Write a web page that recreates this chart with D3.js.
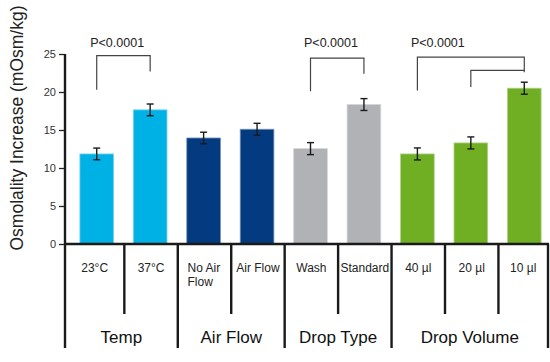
<!DOCTYPE html>
<html>
<head>
<meta charset="utf-8">
<script src="https://cdn.jsdelivr.net/npm/d3@7"></script>
<style>
  body { margin: 0; background: #fff; }
  svg { display: block; font-family: Arial, "Liberation Sans", sans-serif; }
</style>
</head>
<body>
<div id="chart"></div>
<script>
// bar categories and values (mOsm/kg)
const categories = ['23°C', '37°C', 'No Air Flow', 'Air Flow', 'Wash', 'Standard', '40 µl', '20 µl', '10 µl'];
const values = [11.85, 17.65, 13.95, 15.1, 12.55, 18.35, 11.85, 13.3, 20.5];
const errors = [0.77, 0.77, 0.76, 0.78, 0.79, 0.78, 0.79, 0.79, 0.79];
const groups = [
    {name: 'Temp', from: 0, to: 1, color: '#00b1e5'},
    {name: 'Air Flow', from: 2, to: 3, color: '#033a80'},
    {name: 'Drop Type', from: 4, to: 5, color: '#b1b2b6'},
    {name: 'Drop Volume', from: 6, to: 8, color: '#70ae24'}
];
const yTicks = [0, 5, 10, 15, 20, 25];
// significance brackets, levels in data units
const brackets = [
    {a: 0, b: 1, top: 24.78, aEnd: 20.3, bEnd: 22.7, label: 'P<0.0001'},
    {a: 4, b: 5, top: 24.45, aEnd: 20.1, bEnd: 22.4, label: 'P<0.0001'},
    {a: 6, b: 8, top: 24.6, aEnd: 20.2, bEnd: 22.6, label: 'P<0.0001'},
    {a: 7, b: 8, top: 22.85, aEnd: 20.65, bEnd: 22.85, label: ''}
];

const width = 550, height = 362;
const axisLeft = 65, axisRight = 548;

const svg = d3.select('#chart').append('svg')
    .attr('width', width)
    .attr('height', height)
    .attr('viewBox', [0, 0, width, height]);

const x = d3.scaleBand()
    .domain(categories)
    .range([70, 551])
    .paddingInner(0.37)
    .paddingOuter(0.185);

const y = d3.scaleLinear()
    .domain([0, 25])
    .range([244, 54]);

const colorOf = i => groups.find(g => i >= g.from && i <= g.to).color;

// bars
svg.append('g')
    .selectAll('rect')
    .data(values)
    .join('rect')
    .attr('x', (d, i) => x(categories[i]))
    .attr('y', d => y(d))
    .attr('width', x.bandwidth())
    .attr('height', d => y(0) - y(d))
    .attr('fill', (d, i) => colorOf(i))
    .attr('stroke', (d, i) => d3.interpolateRgb(colorOf(i), '#fff')(0.45))
    .attr('stroke-width', 0.8);

// error bars
const eb = svg.append('g').attr('stroke', '#1a1a1a').attr('stroke-width', 1.4);
values.forEach((v, i) => {
    const cx = x(categories[i]) + x.bandwidth() / 2;
    eb.append('line').attr('x1', cx).attr('x2', cx).attr('y1', y(v + errors[i])).attr('y2', y(v - errors[i]));
    eb.append('line').attr('x1', cx - 3.5).attr('x2', cx + 3.5).attr('y1', y(v + errors[i])).attr('y2', y(v + errors[i]));
    eb.append('line').attr('x1', cx - 3.5).attr('x2', cx + 3.5).attr('y1', y(v - errors[i])).attr('y2', y(v - errors[i]));
});

// y axis
const yAxis = svg.append('g')
    .attr('transform', `translate(${axisLeft},0)`)
    .call(d3.axisLeft(y).tickValues(yTicks).tickSize(6).tickPadding(3));
yAxis.select('.domain').remove();
yAxis.selectAll('line').attr('stroke', '#222').attr('stroke-width', 1.3);
yAxis.selectAll('text').attr('font-size', 11).attr('fill', '#333').attr('font-family', 'Arial, "Liberation Sans", sans-serif');

svg.append('text')
    .attr('transform', 'translate(22.5,128) rotate(-90)')
    .attr('text-anchor', 'middle')
    .attr('font-size', 17.5)
    .attr('fill', '#222')
    .text('Osmolality Increase (mOsm/kg)');

// axes lines
const axes = svg.append('g').attr('stroke', '#1a1a1a').attr('stroke-width', 2.4);
axes.append('line').attr('x1', axisLeft).attr('x2', axisLeft).attr('y1', y(25)).attr('y2', 348);
axes.append('line').attr('x1', axisLeft - 1).attr('x2', axisRight + 1).attr('y1', y(0)).attr('y2', y(0));

// dividers below the axis
categories.forEach((c, i) => {
    if (i === 0) return;
    const isGroupEdge = groups.some(g => g.from === i);
    axes.append('line')
        .attr('x1', x(c) - 9).attr('x2', x(c) - 9)
        .attr('y1', y(0)).attr('y2', isGroupEdge ? 348 : 314);
});
axes.append('line').attr('x1', axisRight).attr('x2', axisRight).attr('y1', y(0)).attr('y2', 348);

// category labels
const edgeOf = i => i === 0 ? axisLeft : x(categories[i]) - 9;
const edgeAfter = i => i === categories.length - 1 ? axisRight : x(categories[i + 1]) - 9;
categories.forEach((c, i) => {
    const cx = (edgeOf(i) + edgeAfter(i)) / 2;
    const t = svg.append('text')
        .attr('font-size', 12)
        .attr('fill', '#222')
        .attr('y', 272);
    if (c === 'No Air Flow') {
        const left = cx - 17;
        t.append('tspan').attr('x', left).text('No Air');
        t.append('tspan').attr('x', left).attr('dy', 14).text('Flow');
    } else {
        t.attr('x', cx).attr('text-anchor', 'middle').text(c);
    }
});

// group labels
groups.forEach(g => {
    const cx = (edgeOf(g.from) + edgeAfter(g.to)) / 2;
    svg.append('text')
        .attr('x', cx)
        .attr('y', 343)
        .attr('text-anchor', 'middle')
        .attr('font-size', 17)
        .attr('fill', '#111')
        .text(g.name);
});

// significance brackets
const br = svg.append('g');
brackets.forEach(b => {
    const xa = x(categories[b.a]) + x.bandwidth() / 2;
    const xb = x(categories[b.b]) + x.bandwidth() / 2;
    br.append('path')
        .attr('d', `M${xa},${y(b.aEnd)}V${y(b.top)}H${xb}V${y(b.bEnd)}`)
        .attr('fill', 'none')
        .attr('stroke', '#444')
        .attr('stroke-width', 1.2);
    if (b.label) {
        br.append('text')
            .attr('x', xa - 6.5)
            .attr('y', 47)
            .attr('font-size', 12.5)
            .attr('fill', '#222')
            .text(b.label);
    }
});
</script>
</body>
</html>
